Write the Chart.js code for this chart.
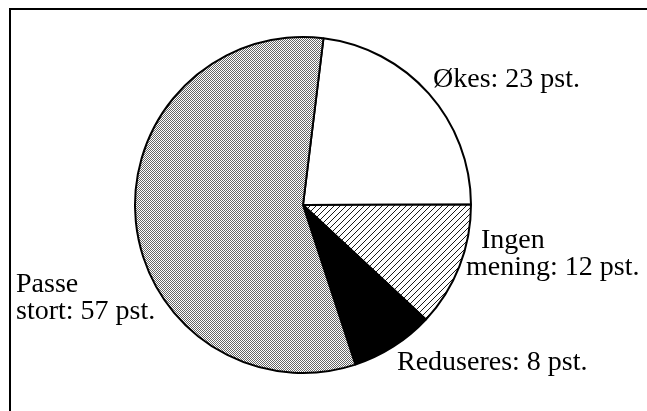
<!DOCTYPE html>
<html>
<head>
<meta charset="utf-8">
<script src="https://cdn.jsdelivr.net/npm/chart.js@4"></script>
<style>
html,body{margin:0;padding:0;background:#fff;}
#wrap{position:relative;width:647px;height:411px;}
</style>
</head>
<body>
<div id="wrap"><canvas id="c" width="647" height="411"></canvas></div>
<script>
// Data
const categories = ['Økes', 'Ingen mening', 'Reduseres', 'Passe stort'];
const values = [23, 12, 8, 57];
const labelLines = [
  ['Økes: 23 pst.'],
  ['Ingen', 'mening: 12 pst.'],
  ['Reduseres: 8 pst.'],
  ['Passe', 'stort: 57 pst.']
];

// Fill patterns
function stipple() {
  const c = document.createElement('canvas');
  c.width = 2; c.height = 2;
  const x = c.getContext('2d');
  x.fillStyle = '#ffffff'; x.fillRect(0, 0, 2, 2);
  x.fillStyle = '#666666';
  x.fillRect(0, 0, 1, 1); x.fillRect(1, 1, 1, 1);
  return x.createPattern(c, 'repeat');
}
function hatch() {
  const s = 6;
  const c = document.createElement('canvas');
  c.width = s; c.height = s;
  const x = c.getContext('2d');
  x.fillStyle = '#ffffff'; x.fillRect(0, 0, s, s);
  x.strokeStyle = '#000000'; x.lineWidth = 0.9;
  x.beginPath();
  x.moveTo(0, s); x.lineTo(s, 0);
  x.moveTo(-1, 1); x.lineTo(1, -1);
  x.moveTo(s - 1, s + 1); x.lineTo(s + 1, s - 1);
  x.stroke();
  return x.createPattern(c, 'repeat');
}

// Label anchors (left x, first baseline) per slice
const labelPos = [
  {x: 433, y: 87},
  {x: 481, y: 248, x2: 466},
  {x: 397, y: 370},
  {x: 16, y: 292}
];

const framePlugin = {
  id: 'frame',
  afterDraw(chart) {
    const ctx = chart.ctx;
    ctx.save();
    ctx.strokeStyle = '#000'; ctx.lineWidth = 2;
    ctx.beginPath();
    ctx.moveTo(10, 411); ctx.lineTo(10, 9); ctx.lineTo(647, 9);
    ctx.stroke();
    ctx.restore();
  }
};

const labelPlugin = {
  id: 'sliceLabels',
  afterDraw(chart) {
    const ctx = chart.ctx;
    ctx.save();
    ctx.fillStyle = '#000';
    ctx.font = '28px "Liberation Serif", "Times New Roman", serif';
    ctx.textBaseline = 'alphabetic';
    ctx.textAlign = 'left';
    labelLines.forEach((lines, i) => {
      const p = labelPos[i];
      lines.forEach((t, j) => {
        const x = (j > 0 && p.x2 !== undefined) ? p.x2 : p.x;
        ctx.fillText(t, x, p.y + j * 27);
      });
    });
    ctx.restore();
  }
};

new Chart(document.getElementById('c'), {
  type: 'pie',
  data: {
    labels: categories,
    datasets: [{
      data: values,
      backgroundColor: ['#ffffff', hatch(), '#000000', stipple()],
      borderColor: '#000000',
      borderWidth: 2,
      hoverOffset: 0
    }]
  },
  options: {
    responsive: false,
    animation: false,
    rotation: 7,
    layout: {padding: {top: 36, bottom: 37, left: 0, right: 41}},
    plugins: {legend: {display: false}, tooltip: {enabled: false}}
  },
  plugins: [framePlugin, labelPlugin]
});
</script>
</body>
</html>
